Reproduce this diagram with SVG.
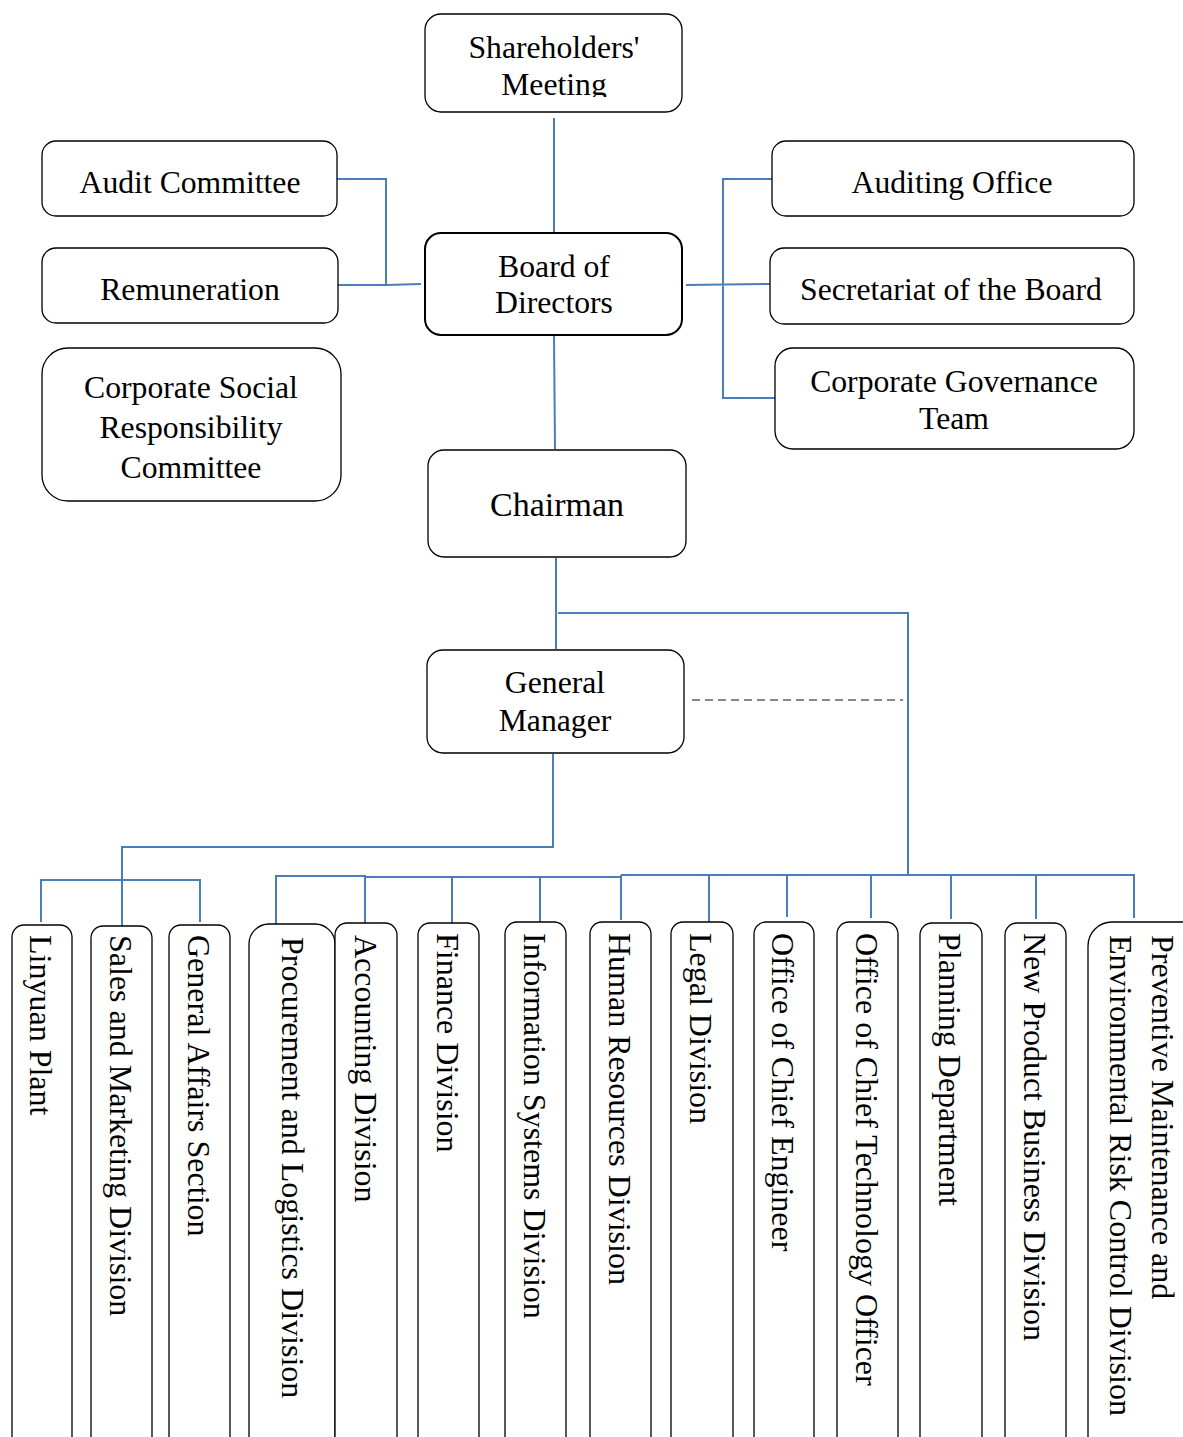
<svg xmlns="http://www.w3.org/2000/svg" width="1183" height="1437" viewBox="0 0 1183 1437">
<style>
.box{fill:#fff;stroke:#000;stroke-width:1.3}
.thick{stroke-width:2}
.t{font-family:"Liberation Serif","Times New Roman",serif;font-size:31.7px;fill:#000;text-anchor:middle}
.v{font-family:"Liberation Serif","Times New Roman",serif;font-size:32px;fill:#000}
.c{fill:none;stroke:#4a7ebb;stroke-width:2}
.d{fill:none;stroke:#888;stroke-width:2;stroke-dasharray:8 5}
</style>
<defs>
<clipPath id="clipMeet"><rect x="425" y="14" width="258" height="83"/></clipPath>
</defs>
<rect width="1183" height="1437" fill="#fff"/>
<g id="connectors">
<path class="c" d="M554 118V232"/>
<path class="c" d="M337 179H386V285H338M386 285L421 284"/>
<path class="c" d="M686 285L770 284M772 179H723V398H775"/>
<path class="c" d="M554 336L555 449"/>
<path class="c" d="M556 558V649"/>
<path class="c" d="M558 613H908V875"/>
<path class="d" d="M692 700H903"/>
<path class="c" d="M553 754V847H122V927"/>
<path class="c" d="M41 922V880H200V922"/>
<path class="c" d="M276 925V876H365V923M365 877H621M621 875H1134V918"/>
<path class="c" d="M452 924V877M540 922V877M621 920V875M709 922V875M787 917V875M871 918V875M951 919V875M1036 919V875"/>
</g>
<g id="shareholders">
<rect class="box" x="425" y="14" width="257" height="98" rx="16"/>
<text class="t" x="554" y="58">Shareholders'</text>
<text class="t" x="554" y="95" clip-path="url(#clipMeet)">Meeting</text>
</g>
<g id="audit-committee">
<rect class="box" x="42" y="141" width="295" height="75" rx="14"/>
<text class="t" x="190" y="193">Audit Committee</text>
</g>
<g id="remuneration">
<rect class="box" x="42" y="248" width="296" height="75" rx="14"/>
<text class="t" x="190" y="300">Remuneration</text>
</g>
<g id="csr-committee">
<rect class="box" x="42" y="348" width="299" height="153" rx="26"/>
<text class="t" x="191" y="398">Corporate Social</text>
<text class="t" x="191" y="438">Responsibility</text>
<text class="t" x="191" y="478">Committee</text>
</g>
<g id="board">
<rect class="box thick" x="425" y="233" width="257" height="102" rx="16"/>
<text class="t" x="554" y="277">Board of</text>
<text class="t" x="554" y="313">Directors</text>
</g>
<g id="auditing-office">
<rect class="box" x="772" y="141" width="362" height="75" rx="14"/>
<text class="t" x="952" y="193">Auditing Office</text>
</g>
<g id="secretariat">
<rect class="box" x="770" y="248" width="364" height="76" rx="14"/>
<text class="t" x="951" y="300">Secretariat of the Board</text>
</g>
<g id="governance-team">
<rect class="box" x="775" y="348" width="359" height="101" rx="18"/>
<text class="t" x="954" y="392">Corporate Governance</text>
<text class="t" x="954" y="429">Team</text>
</g>
<g id="chairman">
<rect class="box" x="428" y="450" width="258" height="107" rx="16"/>
<text class="t" x="557" y="516" style="font-size:34px">Chairman</text>
</g>
<g id="general-manager">
<rect class="box" x="427" y="650" width="257" height="103" rx="16"/>
<text class="t" x="555" y="693">General</text>
<text class="t" x="555" y="731">Manager</text>
</g>
<g id="linyuan-plant">
<rect class="box" x="12" y="925" width="60" height="540" rx="12"/>
<text class="v" transform="translate(30,935) rotate(90)">Linyuan Plant</text>
</g>
<g id="sales-marketing">
<rect class="box" x="91" y="926" width="61" height="540" rx="12"/>
<text class="v" transform="translate(110,935) rotate(90)">Sales and Marketing Division</text>
</g>
<g id="general-affairs">
<rect class="box" x="169" y="925" width="61" height="540" rx="12"/>
<text class="v" transform="translate(188,935) rotate(90)">General Affairs Section</text>
</g>
<g id="procurement">
<rect class="box" x="249" y="924" width="86" height="540" rx="20"/>
<text class="v" transform="translate(282,937) rotate(90)">Procurement and Logistics Division</text>
</g>
<g id="accounting">
<rect class="box" x="335" y="923" width="62" height="540" rx="12"/>
<text class="v" transform="translate(355,935) rotate(90)">Accounting Division</text>
</g>
<g id="finance">
<rect class="box" x="418" y="923" width="61" height="540" rx="12"/>
<text class="v" transform="translate(437,933) rotate(90)">Finance Division</text>
</g>
<g id="information-systems">
<rect class="box" x="505" y="922" width="61" height="540" rx="12"/>
<text class="v" transform="translate(524,933) rotate(90)">Information Systems Division</text>
</g>
<g id="human-resources">
<rect class="box" x="590" y="922" width="61" height="540" rx="12"/>
<text class="v" transform="translate(609,933) rotate(90)">Human Resources Division</text>
</g>
<g id="legal">
<rect class="box" x="671" y="922" width="62" height="540" rx="12"/>
<text class="v" transform="translate(690,933) rotate(90)">Legal Division</text>
</g>
<g id="chief-engineer">
<rect class="box" x="754" y="922" width="60" height="540" rx="12"/>
<text class="v" transform="translate(772,933) rotate(90)">Office of Chief Engineer</text>
</g>
<g id="cto">
<rect class="box" x="837" y="922" width="61" height="540" rx="12"/>
<text class="v" transform="translate(856,933) rotate(90)">Office of Chief Technology Officer</text>
</g>
<g id="planning">
<rect class="box" x="920" y="923" width="62" height="540" rx="12"/>
<text class="v" transform="translate(939,933) rotate(90)">Planning Department</text>
</g>
<g id="new-product">
<rect class="box" x="1005" y="923" width="61" height="540" rx="12"/>
<text class="v" transform="translate(1024,933) rotate(90)">New Product Business Division</text>
</g>
<g id="preventive-maintenance">
<rect class="box" x="1088" y="922" width="120" height="540" rx="24"/>
<text class="v" transform="translate(1152,935) rotate(90)">Preventive Maintenance and</text>
<text class="v" transform="translate(1110,935) rotate(90)">Environmental Risk Control Division</text>
</g>
</svg>
